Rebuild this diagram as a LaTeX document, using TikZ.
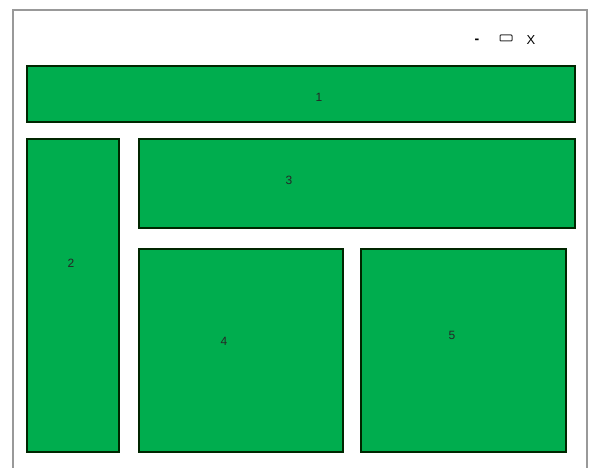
\documentclass[tikz,border=0pt]{standalone}
\usepackage{fontspec}
\setmainfont{Liberation Sans}
\begin{document}
\begin{tikzpicture}[x=1pt,y=-1pt,
  panel/.style={draw=black!85!green, line width=1.8pt, fill=paneln},
  lbl/.style={font=\fontsize{12}{14}\selectfont, text=black!85}]
\definecolor{paneln}{RGB}{0,173,78}
\useasboundingbox (0,0) rectangle (590,468);
\draw[gray!80, line width=1.3pt] (13,468) -- (13,10) -- (587,10) -- (587,468);
% window controls
\node[font=\bfseries\fontsize{14}{14}\selectfont, inner sep=0pt] (min) at (477,41) {-};
\node[draw=black!80, line width=1pt, minimum width=12pt, minimum height=6pt, inner sep=0pt, rounded corners=0.8pt] (max) at (506,38) {};
\node[font=\fontsize{13}{14}\selectfont, inner sep=0pt] (cls) at (531,40) {X};
% panels
\draw[panel] (27,66) rectangle (575,122);
\node[lbl] (l1) at (319,97) {1};
\draw[panel] (27,139) rectangle (119,452);
\node[lbl] (l2) at (71,263) {2};
\draw[panel] (139,139) rectangle (575,228);
\node[lbl] (l3) at (289,180) {3};
\draw[panel] (139,249) rectangle (343,452);
\node[lbl] (l4) at (224,341) {4};
\draw[panel] (361,249) rectangle (566,452);
\node[lbl] (l5) at (452,335) {5};
\end{tikzpicture}
\end{document}
